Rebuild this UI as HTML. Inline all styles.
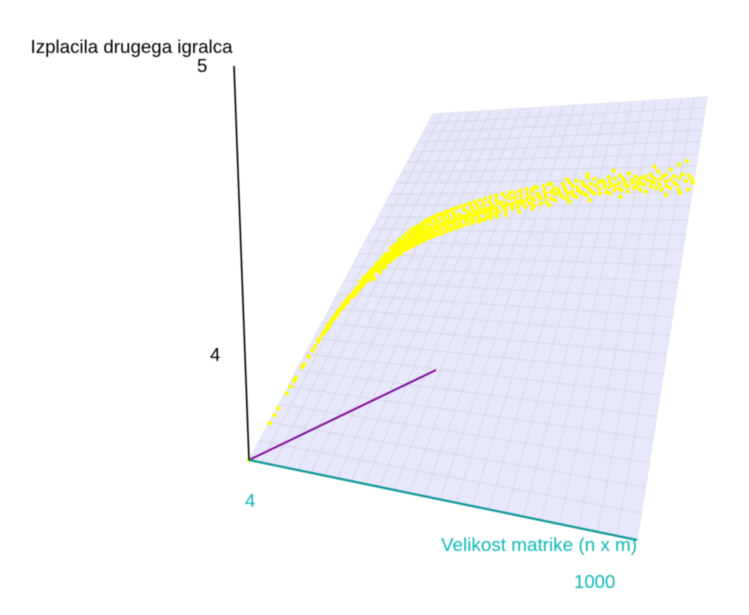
<!DOCTYPE html>
<html lang="sl">
<head>
<meta charset="utf-8">
<title>Izplacila drugega igralca</title>
<style>
html,body{margin:0;padding:0;background:#fff;width:749px;height:615px;overflow:hidden}
svg{display:block;filter:blur(0.6px)}
text{font-family:"Liberation Sans",sans-serif;font-size:18.6px}
</style>
</head>
<body>
<svg id="chart" width="749" height="615" viewBox="0 0 749 615" xmlns="http://www.w3.org/2000/svg">
  <rect width="749" height="615" fill="#fff"/>
  <polygon id="plane" fill="#e7e7fd" stroke="#e2e2ee" stroke-width="1"/>
  <g id="grid" stroke="#dadae3" stroke-width="1.1" fill="none"></g>
  <g id="points" fill="#ffff00"></g>
  <line id="depthAxis" stroke="#7d0f96" stroke-width="2"/>
  <line id="xAxis" stroke="#0f9696" stroke-width="2.2"/>
  <line id="yAxis" x1="234" y1="66" x2="249" y2="460" stroke="#000" stroke-width="1.6"/>
  <text x="30.5" y="53" fill="#000" textLength="202" lengthAdjust="spacingAndGlyphs">Izplacila drugega igralca</text>
  <text x="197" y="72" fill="#000">5</text>
  <text x="210" y="361" fill="#000">4</text>
  <text x="245" y="507" fill="#0cb8b8">4</text>
  <text x="441" y="551" fill="#0cb8b8" textLength="196" lengthAdjust="spacingAndGlyphs">Velikost matrike (n x m)</text>
  <text x="574" y="588" fill="#0cb8b8">1000</text>
</svg>
<script>
const xDomain = [4, 1000];
const yDomain = [4, 5];
const gridColumns = 25;
const gridRows = 26;
const matrixSizes = [
4,8,9,10,12,13,14,15,17,18,20,21,23,24,25,27,
28,29,30,31,32,33,34,35,36,37,38,39,40,41,42,43,44,45,46,47,48,49,50,51,52,53,54,55,56,58,
60,61,62,64,65,66,67,69,70,71,72,74,75,76,77,79,80,81,82,84,
85,86,87,89,90,91,92,94,95,96,97,99,100,101,102,104,105,106,108,110,
111,112,114,115,116,118,119,120,122,123,124,126,127,128,130,131,132,134,135,136,138,139,140,142,
144,146,148,150,152,154,156,158,160,162,164,166,168,170,172,174,176,178,180,182,184,186,188,190,192,194,196,198,200,202,
205,208,211,214,217,220,223,226,229,232,235,238,241,244,247,250,253,256,259,262,265,268,271,274,277,280,284,288,292,296,
300,304,307,311,314,318,321,325,328,332,335,339,342,346,349,353,356,360,363,367,370,374,377,381,384,388,391,395,398,402,405,409,412,416,420,425,
430,434,438,442,446,450,454,458,462,466,470,474,478,482,486,490,494,498,502,506,510,514,518,522,526,530,534,538,542,546,550,554,558,562,566,570,574,578,582,586,590,596,
600,604,608,612,616,620,624,628,632,636,640,644,648,652,656,660,664,668,672,676,680,684,688,692,696,700,704,708,712,716,720,726,
730,734,738,742,746,750,754,758,762,766,770,774,778,782,786,790,794,798,802,806,810,814,818,822,826,830,834,838,842,846,
850,854,858,862,866,870,874,878,882,886,890,894,898,902,906,910,914,918,922,926,930,934,938,942,946,950,954,958,962,966,972,978,984,988,994,998,
103,113,121,129,137,145,153,161,169,177,185,193,201,210,220,230,242,254,266,278,292,306,320,335,351,367,385,403,422,445,480,520,565,620,680,760,880,
107,117,125,133,141,149,157,165,173,181,189,197,206,215,225,236,248,260,272,285,299,313,327,343,359,376,394,412,432,460,500,540,590,650,710,800,930,968,
150,160,170,180,190,200,210,220,230,240,250,260,270,280,290,300,310,320,330,340,350,360,370,380,390,400,410,420,440,450,470,490,510,530,550
];
const payoffs = [
4.0,4.075,4.092,4.107,4.14,4.155,4.168,4.175,4.2,4.207,4.225,4.24,4.25,4.262,4.27,4.28,
4.285,4.30,4.29,4.305,4.295,4.315,4.31,4.30,4.325,4.32,4.335,4.325,4.34,4.33,4.345,4.335,4.355,4.345,4.36,4.35,4.365,4.355,4.37,4.36,4.375,4.365,4.38,4.37,4.365,4.385,
4.395,4.38,4.405,4.39,4.42,4.40,4.385,4.43,4.41,4.395,4.435,4.405,4.44,4.415,4.43,4.41,4.45,4.42,4.44,4.455,
4.43,4.46,4.445,4.425,4.47,4.45,4.435,4.475,4.455,4.44,4.48,4.46,4.49,4.455,4.475,4.47,4.495,4.46,4.48,4.50,
4.46,4.48,4.50,4.465,4.485,4.505,4.475,4.495,4.51,4.48,4.50,4.52,4.49,4.51,4.53,4.495,4.515,4.505,4.535,4.52,4.50,4.54,4.515,4.53,
4.505,4.54,4.52,4.55,4.515,4.535,4.56,4.525,4.545,4.52,4.565,4.535,4.555,4.53,4.575,4.545,4.56,4.535,4.58,4.55,4.565,4.54,4.585,4.555,4.57,4.545,4.595,4.56,4.575,4.55,
4.585,4.555,4.60,4.57,4.585,4.56,4.61,4.575,4.595,4.565,4.605,4.585,4.57,4.62,4.595,4.58,4.61,4.59,4.625,4.575,4.605,4.595,4.615,4.585,4.63,4.60,4.585,4.62,4.605,4.595,
4.625,4.59,4.61,4.64,4.60,4.62,4.595,4.635,4.615,4.65,4.605,4.625,4.64,4.61,4.655,4.62,4.635,4.605,4.645,4.625,4.66,4.615,4.635,4.645,4.61,4.665,4.63,4.645,4.62,4.655,4.635,4.67,4.625,4.645,4.66,4.63,
4.665,4.635,4.68,4.65,4.69,4.66,4.64,4.675,4.695,4.655,4.68,4.645,4.70,4.665,4.685,4.65,4.67,4.705,4.66,4.69,4.675,4.65,4.70,4.68,4.66,4.71,4.67,4.69,4.655,4.685,4.715,4.675,4.70,4.66,4.69,4.68,4.72,4.665,4.695,4.705,4.675,4.69,
4.705,4.67,4.695,4.72,4.685,4.71,4.68,4.70,4.725,4.69,4.675,4.715,4.695,4.73,4.685,4.71,4.70,4.68,4.725,4.695,4.715,4.74,4.69,4.71,4.685,4.72,4.70,4.735,4.695,4.715,4.69,4.725,
4.705,4.73,4.69,4.72,4.71,4.74,4.695,4.725,4.71,4.69,4.735,4.715,4.70,4.745,4.72,4.705,4.735,4.70,4.725,4.715,4.75,4.71,4.695,4.73,4.72,4.74,4.705,4.725,4.71,4.735,
4.72,4.70,4.74,4.715,4.73,4.695,4.745,4.725,4.71,4.735,4.72,4.755,4.705,4.73,4.715,4.74,4.70,4.745,4.725,4.71,4.76,4.73,4.705,4.74,4.72,4.775,4.715,4.735,4.70,4.745,4.785,4.725,4.74,4.70,4.73,4.72,
4.50,4.52,4.53,4.545,4.555,4.565,4.575,4.58,4.585,4.59,4.60,4.605,4.61,4.615,4.62,4.625,4.63,4.635,4.64,4.645,4.65,4.655,4.66,4.665,4.67,4.675,4.68,4.685,4.69,4.695,4.70,4.71,4.72,4.735,4.75,4.76,4.77,
4.43,4.45,4.465,4.48,4.49,4.50,4.505,4.515,4.52,4.525,4.53,4.535,4.54,4.545,4.55,4.555,4.56,4.565,4.57,4.575,4.58,4.585,4.59,4.595,4.60,4.605,4.61,4.615,4.62,4.625,4.635,4.645,4.655,4.665,4.67,4.68,4.685,4.69,
4.525,4.535,4.545,4.55,4.56,4.565,4.57,4.58,4.58,4.585,4.59,4.595,4.60,4.60,4.605,4.61,4.615,4.615,4.62,4.625,4.625,4.63,4.63,4.635,4.64,4.64,4.645,4.645,4.65,4.655,4.66,4.665,4.67,4.675,4.68
];

const NS = 'http://www.w3.org/2000/svg';

/* Perspective mapping of the floor plane: (u,v) in the unit square to screen pixels */
function project(u, v) {
  const w = -0.2373 * u + 0.4767 * v + 1;
  return [
    (236.9 * u + 390.4 * v + 249) / w,
    (-48.1 * u - 291.7 * v + 460) / w
  ];
}
function xScale(size) { return (size - xDomain[0]) / (xDomain[1] - xDomain[0]); }
function yScale(pay) { return (pay - yDomain[0]) / (yDomain[1] - yDomain[0]); }

const corners = [project(0,0), project(1,0), project(1,1), project(0,1)];
document.getElementById('plane').setAttribute('points', corners.map(p => p[0].toFixed(1) + ',' + p[1].toFixed(1)).join(' '));

const grid = document.getElementById('grid');
for (let i = 1; i < gridColumns; i++) {
  const a = project(i / gridColumns, 0), b = project(i / gridColumns, 1);
  const el = document.createElementNS(NS, 'line');
  
  
  el.setAttribute('x1', a[0]); el.setAttribute('y1', a[1]);
  el.setAttribute('x2', b[0]); el.setAttribute('y2', b[1]);
  grid.appendChild(el);
}
for (let j = 1; j < gridRows; j++) {
  const a = project(0, j / gridRows), b = project(1, j / gridRows);
  const el = document.createElementNS(NS, 'line');
  
  
  el.setAttribute('x1', a[0]); el.setAttribute('y1', a[1]);
  el.setAttribute('x2', b[0]); el.setAttribute('y2', b[1]);
  grid.appendChild(el);
}

const pts = document.getElementById('points');
matrixSizes.forEach((size, i) => {
  const p = project(xScale(size), yScale(payoffs[i]));
  const el = document.createElementNS(NS, 'circle');
  
  
  el.setAttribute('cx', p[0].toFixed(2));
  el.setAttribute('cy', p[1].toFixed(2));
  el.setAttribute('r', '2.2');
  pts.appendChild(el);
});

const o = project(0, 0), xEnd = project(1, 0);
const xa = document.getElementById('xAxis');
xa.setAttribute('x1', o[0]); xa.setAttribute('y1', o[1]);
xa.setAttribute('x2', xEnd[0]); xa.setAttribute('y2', xEnd[1]);
const da = document.getElementById('depthAxis');
da.setAttribute('x1', o[0]); da.setAttribute('y1', o[1]);
da.setAttribute('x2', 436); da.setAttribute('y2', 370);
</script>
</body>
</html>
